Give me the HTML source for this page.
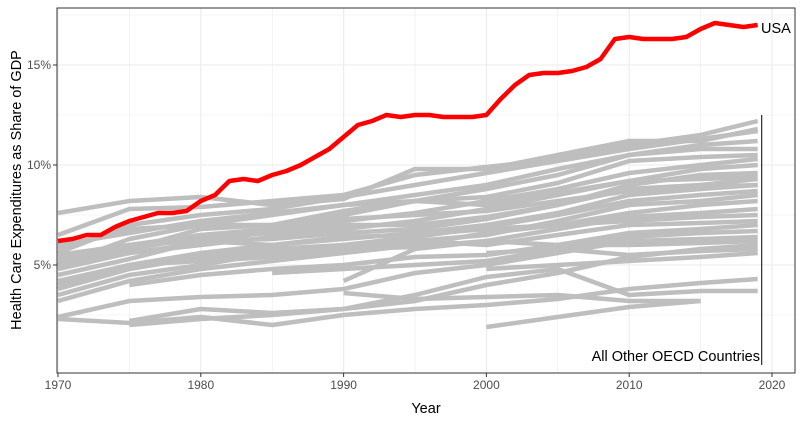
<!DOCTYPE html>
<html><head><meta charset="utf-8"><style>
body{margin:0;background:#fff;font-family:"Liberation Sans",sans-serif}
</style></head><body>
<svg id="chart" width="803" height="424" xmlns="http://www.w3.org/2000/svg" font-family="Liberation Sans, sans-serif"></svg>
<script>
const years=[1970,1975,1980,1985,1990,1995,2000,2005,2010,2015,2019];
const usaYears=[1970,1971,1972,1973,1974,1975,1976,1977,1978,1979,1980,1981,1982,1983,1984,1985,1986,1987,1988,1989,1990,1991,1992,1993,1994,1995,1996,1997,1998,1999,2000,2001,2002,2003,2004,2005,2006,2007,2008,2009,2010,2011,2012,2013,2014,2015,2016,2017,2018,2019];
const usaValues=[6.2,6.3,6.5,6.5,6.9,7.2,7.4,7.6,7.6,7.7,8.2,8.5,9.2,9.3,9.2,9.5,9.7,10.0,10.4,10.8,11.4,12.0,12.2,12.5,12.4,12.5,12.5,12.4,12.4,12.4,12.5,13.3,14.0,14.5,14.6,14.6,14.7,14.9,15.3,16.3,16.4,16.3,16.3,16.3,16.4,16.8,17.1,17.0,16.9,17.0];
const otherSeries=[
[7.6,8.2,8.4,8.0,8.3,9.8,9.8,10.5,11.2,11.2,11.8],
[6.5,7.8,7.9,8.2,8.5,9.5,9.9,10.3,11.0,11.5,12.2],
[5.6,7.0,7.5,7.8,8.4,9.0,9.6,10.2,10.8,11.3,11.7],
[5.0,6.3,7.0,7.5,8.0,8.5,9.0,9.8,10.5,11.0,11.2],
[5.8,6.8,7.0,7.0,7.7,8.2,8.8,9.5,10.5,10.8,10.8],
[5.4,6.0,6.5,6.8,7.5,8.2,8.4,9.1,10.2,10.4,10.5],
[4.8,5.6,6.1,6.7,7.2,7.6,8.2,8.8,9.6,10.0,10.3],
[4.9,5.6,6.0,6.4,6.8,7.2,7.8,8.5,9.2,9.8,10.0],
[5.2,5.8,6.4,6.6,7.0,7.0,7.4,8.0,9.0,9.5,9.6],
[4.5,5.3,6.2,6.3,6.6,6.8,7.3,8.0,8.8,9.0,9.3],
[4.2,5.0,5.6,6.0,6.3,6.6,7.0,7.6,8.5,8.8,9.0],
[3.8,4.8,5.4,5.6,6.0,6.4,6.9,7.5,8.2,8.5,8.7],
[3.5,4.5,5.0,5.6,5.8,6.2,6.5,7.2,8.0,8.2,8.5],
[3.2,4.2,4.8,5.2,5.6,6.0,6.6,7.0,7.6,8.0,8.2],
[4.0,5.0,5.2,5.4,5.8,5.9,6.2,6.8,7.4,7.6,7.8],
[5.5,6.0,6.2,6.0,6.4,6.5,6.8,7.0,7.2,7.4,7.5],
[null,null,5.6,5.8,6.0,6.2,6.0,6.5,7.0,7.1,7.2],
[null,4.0,4.5,4.8,5.0,5.4,5.5,6.0,6.6,6.8,7.0],
[null,null,null,4.6,4.8,5.0,5.2,5.8,6.4,6.6,6.7],
[2.4,3.2,3.4,3.5,3.8,4.6,5.0,5.6,6.2,6.3,6.4],
[null,null,null,null,4.2,5.8,6.2,6.0,6.0,6.1,6.2],
[null,null,null,null,null,null,5.6,5.8,5.5,5.7,5.8],
[null,null,null,null,null,null,4.8,5.0,5.2,5.4,5.6],
[2.3,2.1,2.4,2.0,2.5,2.8,3.0,3.3,3.8,4.1,4.3],
[null,2.0,2.3,2.5,2.8,3.5,4.4,4.8,3.5,3.7,3.7],
[null,null,null,null,3.6,3.3,3.4,3.5,3.2,3.2,null],
[null,null,null,null,null,null,1.9,2.4,2.9,3.2,null],
[null,2.2,2.8,2.6,2.8,3.2,4.0,4.6,5.4,5.8,6.0],
[6.0,6.6,7.2,7.6,8.0,8.2,8.0,8.6,9.2,9.3,9.4],
[5.0,5.8,6.8,7.0,7.3,7.5,7.7,8.2,8.7,8.9,9.0]
];
const xTicks=[1970,1980,1990,2000,2010,2020];
const yTicks=[5,10,15];
const yTickLabels=["5%","10%","15%"];

const NS="http://www.w3.org/2000/svg";
const svg=document.getElementById('chart');
const P={l:57,r:795,t:8,b:373};
const x=v=>58+(v-1970)*(772-58)/50;
const y=v=>365-v*20;
function el(t,a,p){const e=document.createElementNS(NS,t);for(const k in a)e.setAttribute(k,a[k]);(p||svg).appendChild(e);return e;}
for(let v=1965;v<=2025;v+=5){const X=x(v);if(X<P.l||X>P.r)continue;const g=el('line',{x1:X,x2:X,y1:P.t,y2:P.b,stroke:'#ebebeb','stroke-width':v%10?0.6:1.1});}
for(let v=2.5;v<=17.5;v+=2.5){const Y=y(v);const g=el('line',{x1:P.l,x2:P.r,y1:Y,y2:Y,stroke:'#ebebeb','stroke-width':v%5?0.6:1.1});}
otherSeries.forEach((s,i)=>{let d='',pen=false;s.forEach((v,j)=>{if(v==null){pen=false;return;}d+=(pen?'L':'M')+x(years[j]).toFixed(1)+','+y(v).toFixed(1);pen=true;});
const p=el('path',{d:d,fill:'none',stroke:'#bebebe','stroke-width':4.5,'stroke-linejoin':'round','stroke-linecap':'butt'});

});
{let d=usaValues.map((v,i)=>(i?'L':'M')+x(usaYears[i]).toFixed(1)+','+y(v).toFixed(1)).join('');
const p=el('path',{d:d,fill:'none',stroke:'#ff0000','stroke-width':4.5,'stroke-linejoin':'round'});

}
const vl=el('line',{x1:x(2019)+4,x2:x(2019)+4,y1:y(12.5),y2:y(0),stroke:'#000','stroke-width':1});

const t1=el('text',{x:761,y:33,'font-size':14.5,fill:'#000'});t1.textContent='USA';

const t2=el('text',{x:760,y:361,'font-size':14.5,fill:'#000','text-anchor':'end'});t2.textContent='All Other OECD Countries';

const b=el('rect',{x:P.l,y:P.t,width:P.r-P.l,height:P.b-P.t,fill:'none',stroke:'#333','stroke-width':1});

xTicks.forEach(v=>{const X=x(v);el('line',{x1:X,x2:X,y1:P.b,y2:P.b+4,stroke:'#333'});
const t=el('text',{x:X,y:P.b+16,'font-size':12,fill:'#4d4d4d','text-anchor':'middle'});t.textContent=v;
});
yTicks.forEach((v,i)=>{const Y=y(v);el('line',{x1:P.l-4,x2:P.l,y1:Y,y2:Y,stroke:'#333'});
const t=el('text',{x:P.l-6,y:Y+4,'font-size':12,fill:'#4d4d4d','text-anchor':'end'});t.textContent=yTickLabels[i];
});
const xt=el('text',{x:(P.l+P.r)/2,y:413,'font-size':14.5,fill:'#000','text-anchor':'middle'});xt.textContent='Year';

const yt=el('text',{x:0,y:0,'font-size':14.5,fill:'#000','text-anchor':'middle',transform:'translate(21,190) rotate(-90)'});yt.textContent='Health Care Expenditures as Share of GDP';

</script>
</body></html>
